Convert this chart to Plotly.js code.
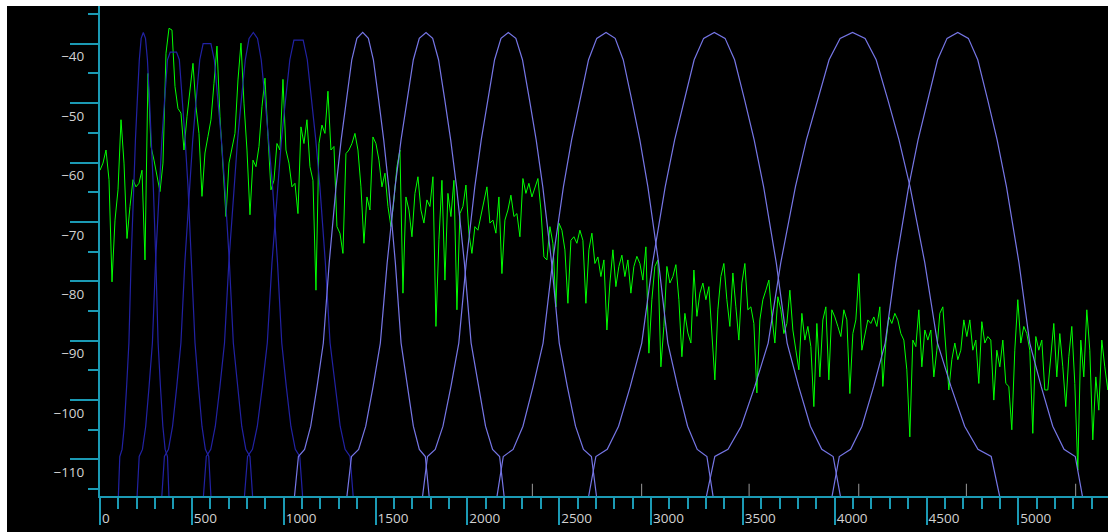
<!DOCTYPE html>
<html><head><meta charset="utf-8">
<script src="https://cdn.plot.ly/plotly-3.0.1.min.js"></script>
<style>
html,body{margin:0;padding:0;background:#ffffff;}
#chart{position:absolute;left:7px;top:6px;width:1101px;height:526px;}
</style>
</head><body><div id="chart"></div>
<script>
// ---- spectrum (green), one value every binHz ----
const binHz = 16.33;
const spectrumDb = [
-61.3,-60.1,-57.9,-62.9,-80.1,-69.7,-64.6,-52.8,-60.1,-72.8,-67.4,-62.9,-64.1,-63.5,-61.3,-76.4,-45,-57.3,-59.6,-62.4,-64.9,-60.1,-41.6,-37.4,-37.7,-47.2,-50.9,-51.7,-57.9,-52.3,-47.2,-43.3,-50.6,-55.1,-65.7,-58.4,-55.6,-52.8,-46.7,-40.4,-52.3,-60.1,-69.1,-60.1,-57.3,-55.1,-46.1,-39.9,-50,-57.9,-68.8,-59.6,-60.7,-57.3,-50.6,-45.8,-55.6,
-64.6,-63,-56.8,-57.9,-46,-57.9,-60.1,-64.1,-63.5,-68.6,-54,-56.8,-52.8,-60.7,-63,-81.5,-56.8,-53.7,-55.1,-48,-57.9,-57.3,-70.8,-71.9,-75.3,-58.5,-57.9,-56.8,-55.1,-57.9,-64.1,-73.6,-65.8,-68,-55.7,-56.8,-59.6,-64.1,-61.8,-67.4,-70.8,-66.3,-60.7,-57.9,-82,-65.8,-68,-72.5,-65.2,-62.4,-68,-70.2,-66.3,-67.4,-62.4,-87.6,-73,
-63,-79.8,-65.2,-69.1,-63,-84.8,-68.6,-67.4,-63.8,-71.9,-75.3,-70.8,-71.4,-68.8,-66.3,-64.1,-70.2,-69.7,-71.9,-65.8,-78.7,-69.7,-68,-65.5,-69.1,-68.6,-72.5,-62.7,-65.2,-63.5,-65.8,-64.1,-62.7,-68,-75.9,-76.4,-70.8,-73.6,-84.3,-70.2,-71.4,-74.7,-83.7,-73.1,-72.5,-73.6,-71.4,-73.1,-83.7,-74.7,-71.9,-77,-75.9,-79.2,-76.4,-88.2,-80.3,
-74.7,-80.9,-77.5,-75.6,-79.2,-76.4,-82,-77.5,-75.8,-77,-79.8,-74.2,-92.1,-83.1,-77.5,-76.4,-94.4,-87.6,-77.5,-80.3,-79.2,-77.2,-83.1,-92.7,-85.4,-88.7,-90.4,-78.1,-85.9,-82,-80.3,-83.1,-80.9,-88.7,-96.6,-84.8,-79.2,-77,-83.1,-87.6,-78.6,-84.3,-89.9,-80.3,-77,-84.8,-84.3,-87.1,-98.8,-86.5,-83.1,-81.5,-79.8,-85.9,-90.4,-82.6,-84.8,
-88.8,-87.1,-81.5,-88.2,-91.6,-94.9,-85.4,-89.9,-87.6,-91,-101.1,-87.1,-96.1,-86.5,-84.3,-96.6,-84.8,-86,-87.6,-89.3,-84.8,-86.5,-98.9,-88.8,-86.5,-78.7,-91.6,-89.3,-86.5,-87.1,-86,-87.6,-84.3,-97.7,-90.4,-86,-87.1,-85.4,-86.5,-88.8,-89.9,-94.9,-106.2,-89.9,-91,-84.8,-94.4,-88.2,-89.9,-88.2,-96.1,-91.6,-85.4,-84.3,-91,-98.3,-93.2,
-90.4,-93.2,-91.6,-86.5,-89.3,-86.5,-91.6,-89.9,-97.2,-86.8,-90.4,-89.3,-89.9,-100,-91.6,-94.4,-89.9,-97.2,-97.7,-105,-91.6,-83.1,-90.4,-87.6,-88.8,-91.6,-105.6,-89.3,-91.6,-89.9,-98.3,-98.3,-92.7,-87.1,-96.1,-88.8,-94.4,-101.1,-92.7,-87.6,-97.2,-111.8,-89.9,-96.1,-84.8,-91.6,-106.7,-96.1,-101.7,-89.9,-94.4,-98.3,-89.9
];

// ---- filter bank (Hz / dB) ----
const filterLeftHz  = [99.6, 201.5, 335.9, 562.4, 785.7, 1057.9, 1343.2, 1754.9, 2159.9, 2658.7, 3299.5, 3983.9];
const filterPeakHz  = [235.8, 399.1, 582.6, 834.7, 1080.8, 1430.4, 1775.0, 2223.1, 2755.1, 3344.7, 4097.2, 4670.0];
const filterRightHz = [375.7, 604.4, 831.4, 1103.7, 1379.2, 1793.0, 2201.3, 2704.4, 3339.3, 4032.9, 4900.3, 5350.6];
const filterTopDb   = [-38.1, -41.4, -40.0, -38.1, -39.4, -38.1, -38.1, -38.1, -38.1, -38.1, -38.1, -38.1];
const filterBand    = ['low','low','low','low','low','high','high','high','high','high','high','high'];
// common shape of one filter: position across the filter (-1 left foot, 0 peak, 1 right foot) and level
const profileT  = [-1.0,-0.94,-0.85,-0.76,-0.667,-0.576,-0.49,-0.39,-0.315,-0.24,-0.16,-0.085,0,0.085,0.16,0.24,0.315,0.39,0.49,0.576,0.667,0.76,0.85,0.94,1.0];
const profileDb = [-116.5,-109.5,-108.3,-104.4,-97.7,-90.4,-76.9,-64.1,-56.2,-49.5,-42.7,-39.1,-38.1,-39.1,-42.7,-49.5,-56.2,-64.1,-76.9,-90.4,-97.7,-104.4,-108.3,-109.5,-116.5];

// small grey marks above the frequency axis
const markerHz = [2354, 2949, 3534, 4131, 4717, 5312];

const axisColor = '#1b9ab4';
const labelColor = '#d2d2d2';
const bandColor = {low: '#2222a4', high: '#7676e6'};

const traces = [];
traces.push({
  type: 'scatter', mode: 'lines',
  x: spectrumDb.map((v, i) => i * binHz),
  y: spectrumDb,
  line: {color: '#00ff00', width: 1},
  hoverinfo: 'skip'
});
for (let f = 0; f < filterPeakHz.length; f++) {
  const xs = [], ys = [];
  for (let k = 0; k < profileT.length; k++) {
    const t = profileT[k];
    const half = t < 0 ? filterPeakHz[f] - filterLeftHz[f] : filterRightHz[f] - filterPeakHz[f];
    xs.push(filterPeakHz[f] + t * half);
    ys.push(Math.min(profileDb[k], filterTopDb[f]));
  }
  traces.push({
    type: 'scatter', mode: 'lines', x: xs, y: ys,
    line: {color: bandColor[filterBand[f]], width: 1.2},
    hoverinfo: 'skip'
  });
}

const shapes = markerHz.map(h => ({
  type: 'line', xref: 'x', yref: 'paper', x0: h, x1: h, y0: 0, y1: 0.025,
  line: {color: '#9a9a9a', width: 1}
}));

const layout = {
  width: 1101, height: 526,
  paper_bgcolor: '#000000', plot_bgcolor: '#000000',
  margin: {l: 93, r: 0, t: 0, b: 36, pad: 0},
  showlegend: false,
  shapes: shapes,
  xaxis: {
    range: [0, 5488], showgrid: false, zeroline: false,
    showline: true, linecolor: axisColor, linewidth: 2,
    ticks: 'outside', tickcolor: axisColor, tickwidth: 2, ticklen: 27,
    tick0: 0, dtick: 500,
    ticklabelposition: 'outside right', ticklabelstandoff: 9,
    tickfont: {family: 'Open Sans, Noto Sans, sans-serif', size: 13.5, color: labelColor},
    minor: {dtick: 100, ticks: 'outside', ticklen: 11, tickwidth: 2, tickcolor: axisColor, showgrid: false}
  },
  yaxis: {
    range: [-116.15, -33.65], showgrid: false, zeroline: false,
    showline: true, linecolor: axisColor, linewidth: 2,
    ticks: 'outside', tickcolor: axisColor, tickwidth: 2, ticklen: 28,
    tick0: 0, dtick: 10,
    ticklabelshift: 13, ticklabelstandoff: -17,
    tickfont: {family: 'Open Sans, Noto Sans, sans-serif', size: 13.5, color: labelColor},
    minor: {dtick: 5, ticks: 'outside', ticklen: 10, tickwidth: 2, tickcolor: axisColor, showgrid: false}
  }
};

Plotly.newPlot('chart', traces, layout, {staticPlot: true, displayModeBar: false});
</script>
</body></html>
